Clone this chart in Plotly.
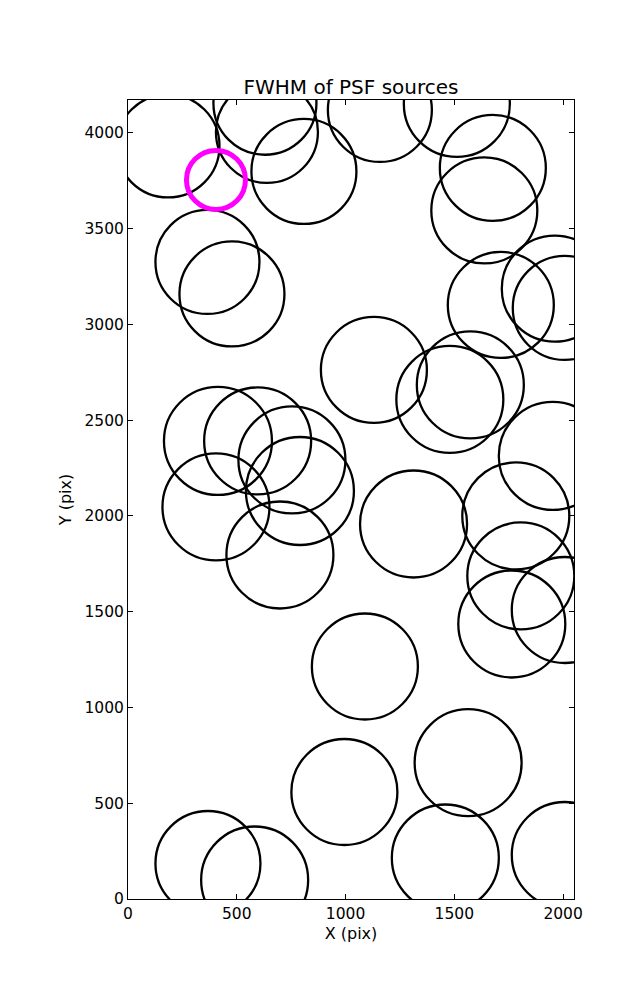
import plotly.graph_objects as go

# Source centres (pixel coordinates on the detector) and FWHM values
src_x = [183.8, 629.4, 638.6, 808.6, 1157.7, 1511.5, 1676.9, 1637.8, 1961.7, 2007.6,
         1713.6, 365.2, 477.8, 1130.2, 1479.3, 1573.5, 1952.5, 413.5, 595.9, 753.4,
         790.2, 404.3, 698.3, 1312.5, 1782.5, 1805.5, 2007.6, 1764.1, 1088.8, 1563.4,
         994.6, 1458.6, 367.5, 582.1, 2007.6]
src_y = [3932.1, 4155.1, 4005.2, 3799.0, 4120.1, 4151.4, 3817.2, 3595.3, 3187.0, 3086.2,
         3101.8, 3326.4, 3159.3, 2762.4, 2608.4, 2684.1, 2313.3, 2391.6, 2391.6, 2292.4,
         2130.5, 2047.0, 1796.3, 1958.2, 2000.0, 1686.7, 1509.1, 1436.0, 1214.1, 711.7,
         558.7, 214.1, 185.4, 99.2, 229.8]
src_fwhm = [5.15, 5.15, 5.1, 5.25, 5.2, 5.3, 5.3, 5.3, 5.3, 5.2,
            5.3, 5.2, 5.25, 5.3, 5.35, 5.35, 5.4, 5.4, 5.35, 5.35,
            5.4, 5.35, 5.35, 5.35, 5.35, 5.35, 5.3, 5.35, 5.3, 5.35,
            5.3, 5.35, 5.25, 5.35, 5.3]

# Highlighted source
hl_x = [404.3]
hl_y = [3754.6]
hl_fwhm = [2.95]

SIZE_SCALE = 20  # marker diameter in px per FWHM unit

x_ticks = [0, 500, 1000, 1500, 2000]
y_ticks = [0, 500, 1000, 1500, 2000, 2500, 3000, 3500, 4000]

FONT = "DejaVu Sans"
FIG_W, FIG_H = 629, 992  # page body adds an 8px offset

fig = go.Figure()
fig.add_trace(go.Scatter(
    x=src_x, y=src_y, mode="markers",
    marker=dict(symbol="circle-open", size=[f * SIZE_SCALE for f in src_fwhm],
                color="black", opacity=1, line=dict(color="black", width=2.3)),
    showlegend=False, hoverinfo="x+y",
))
fig.add_trace(go.Scatter(
    x=hl_x, y=hl_y, mode="markers",
    marker=dict(symbol="circle-open", size=[f * SIZE_SCALE for f in hl_fwhm],
                color="#FF00FF", opacity=1, line=dict(color="#FF00FF", width=5)),
    showlegend=False, hoverinfo="x+y",
))

axis_common = dict(
    showgrid=False, zeroline=False, showline=True, linecolor="black", linewidth=1,
    mirror="ticks", ticks="inside", ticklen=5, tickwidth=1, tickcolor="black",
    tickfont=dict(family=FONT, size=15.5, color="black"), tickformat="d",
)

fig.update_layout(
    width=FIG_W, height=FIG_H,
    margin=dict(l=120, r=63, t=92, b=101),
    paper_bgcolor="white", plot_bgcolor="white",
    font=dict(family=FONT, color="black"),
    title=dict(text="FWHM of PSF sources", x=(120 + 223) / FIG_W, xanchor="center",
               y=1 - 79 / FIG_H, yanchor="middle", yref="container",
               font=dict(family=FONT, size=20, color="black")),
    xaxis=dict(range=[0, 2050], tickvals=x_ticks,
               title=dict(text="X (pix)", font=dict(family=FONT, size=16, color="black"), standoff=6),
               **axis_common),
    yaxis=dict(range=[0, 4172], tickvals=y_ticks,
               title=dict(text="Y (pix)", font=dict(family=FONT, size=16, color="black"), standoff=8),
               **axis_common),
)

fig.write_html("out.html")
